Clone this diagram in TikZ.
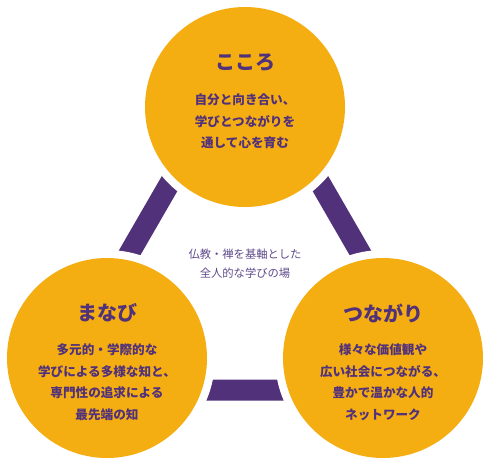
\documentclass[tikz,border=0pt]{standalone}
\usepackage{fontspec}
\newfontfamily\cjk{Noto Sans CJK JP}
\definecolor{orng}{HTML}{F5AE12}
\definecolor{purp}{HTML}{51317A}
\definecolor{lpurp}{HTML}{5E4A8A}
\tikzset{
  bigcirc/.style={circle, fill=orng, minimum size=200pt, inner sep=0pt},
  halo/.style={circle, fill=white, minimum size=216pt, inner sep=0pt},
  ttl/.style={font=\cjk\bfseries\fontsize{20}{22}\selectfont, text=purp},
  body/.style={font=\cjk\bfseries\fontsize{12.6}{21.5}\selectfont, text=purp, align=center},
  mid/.style={font=\cjk\fontsize{11.3}{19.5}\selectfont, text=lpurp, align=center},
  bar/.style={draw=purp, line width=21pt, line join=miter}
}
\begin{document}
\begin{tikzpicture}[x=1pt,y=-1pt]
\useasboundingbox (0,0) rectangle (490,466);
\coordinate (tA) at (245,53);
\coordinate (tB) at (50.4,390);
\coordinate (tC) at (439.6,390);
\draw[bar] (tA) -- (tB) -- (tC) -- cycle;
\node[halo] (hT) at (245,107) {};
\node[halo] (hL) at (107,358) {};
\node[halo] (hR) at (383,358) {};
\node[bigcirc] (cT) at (245,107) {};
\node[bigcirc] (cL) at (107,358) {};
\node[bigcirc] (cR) at (383,358) {};
\node[ttl] (tT) at (245,63) {こころ};
\node[body] (bT) at (245,121.5) {自分と向き合い、\\学びとつながりを\\通して心を育む};
\node[ttl] (tL) at (107,313) {まなび};
\node[body] (bL) at (107,382) {多元的・学際的な\\学びによる多様な知と、\\専門性の追求による\\最先端の知};
\node[ttl] (tR) at (383,313) {つながり};
\node[body] (bR) at (383,382) {様々な価値観や\\広い社会につながる、\\豊かで温かな人的\\ネットワーク};
\node[mid] (m) at (245,263.5) {仏教・禅を基軸とした\\全人的な学びの場};
\end{tikzpicture}
\end{document}
